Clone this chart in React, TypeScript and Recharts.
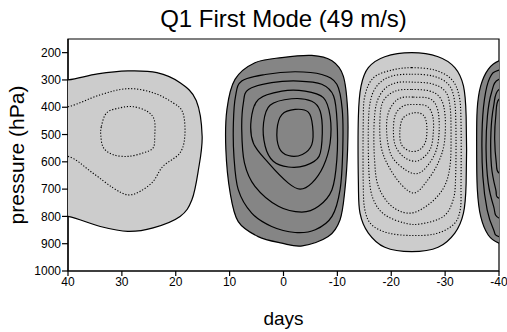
import { ScatterChart, Scatter, XAxis, YAxis, ReferenceArea } from "recharts";

const X_TICKS = [40, 30, 20, 10, 0, -10, -20, -30, -40];
const Y_TICKS = [200, 300, 400, 500, 600, 700, 800, 900, 1000];

// contour rings as [day, pressure] pairs

// negative cell, left (runs off the left edge)
const negLeftOuter = [[46,310],[40,300],[34.5,278],[28.9,267],[23.5,273],[19.2,310],[16.2,375],[15.1,506],[15.8,630],[17,739],[19.2,800],[24.2,842],[28.9,855],[34,837],[40,800],[46,790],[50,550]];
const negLeftRing1 = [[40,398],[34.1,355],[28.9,332],[24.2,347],[20.5,384],[18.7,419],[18.3,500],[19.2,567],[22.4,617],[24.2,672],[26.6,708],[28.9,721],[31.6,696],[35.4,641],[40,580],[45,590],[48,500],[45,400]];
const negLeftRing2 = [[33.8,470],[32.8,420],[30.3,402],[27.9,398],[25.4,414],[24,445],[23.9,506],[24.2,549],[26,567],[28.8,580],[31.6,574],[33.4,549],[33.9,506]];

// positive cell, centre
const posMidOuter = [[9.0,298],[5.3,237],[0.3,218],[-5.25,210],[-9.0,230],[-11.1,286],[-11.9,408],[-11.9,555],[-11.4,702],[-10.5,812],[-8.3,874],[-3.5,908],[0.3,898],[4.7,874],[8.4,819],[9.9,714],[10.7,555],[10.5,408]];
const posMidRing1 = [[7.75,304],[3.4,280],[-2.15,270],[-7.1,280],[-9.9,316],[-10.9,408],[-11.0,555],[-10.5,702],[-9.0,800],[-5.9,849],[-2.15,859],[2.2,837],[5.9,788],[8.4,702],[9.2,580],[9.3,457],[8.9,359]];
const posMidRing2 = [[6.5,335],[2.2,310],[-2.8,304],[-7.1,316],[-9.3,359],[-9.95,457],[-9.9,592],[-9.0,702],[-6.5,763],[-3.4,784],[0.95,763],[5.3,690],[7.25,604],[7.75,482],[7.45,384]];
const posMidRing3 = [[4.65,371],[0.3,341],[-4.0,341],[-7.4,365],[-8.65,433],[-8.65,531],[-7.4,616],[-5.25,678],[-3.1,700],[-0.9,678],[2.8,604],[5.6,531],[6.0,445]];
const posMidRing4 = [[-1.5,369],[-5.25,378],[-6.8,414],[-7.2,494],[-6.6,580],[-4.0,614],[-0.9,619],[1.9,598],[3.4,543],[3.7,457],[2.5,393]];
const posMidRing5 = [[-2.15,408],[-4.6,418],[-5.4,469],[-5.25,537],[-3.5,573],[-0.9,577],[0.8,549],[1.2,482],[0.3,427]];

// negative cell, right of centre
const negRightOuter = [[-23.8,200],[-28.7,215],[-31.8,255],[-33.4,322],[-33.9,433],[-33.9,678],[-33.4,788],[-31.8,861],[-28.7,913],[-23.8,929],[-18.8,913],[-15.75,861],[-14.2,788],[-13.9,678],[-13.9,433],[-14.4,322],[-15.75,255],[-18.8,215]];
const negRightRing1 = [[-23.8,255],[-28.1,264],[-31.2,298],[-32.6,359],[-32.95,457],[-32.95,678],[-32.8,776],[-31.5,831],[-28.1,864],[-23.8,870],[-19.5,861],[-16.4,831],[-15.1,776],[-14.8,678],[-14.8,457],[-15.1,359],[-16.7,292],[-20.1,264]];
const negRightRing2 = [[-23.8,279],[-27.8,286],[-30.6,316],[-31.7,371],[-32.0,469],[-31.95,653],[-31.5,739],[-29.7,800],[-25.65,827],[-22.6,825],[-18.8,794],[-16.7,739],[-15.9,653],[-15.75,469],[-16.2,371],[-17.6,316],[-20.1,286]];
const negRightRing3 = [[-23.8,308],[-27.5,314],[-30.0,341],[-30.9,396],[-31.1,494],[-30.9,616],[-29.7,696],[-26.9,757],[-23.5,788],[-20.1,763],[-17.6,690],[-16.9,592],[-16.8,469],[-17.3,384],[-18.8,332],[-21.0,310]];
const negRightRing4 = [[-23.8,335],[-27.2,341],[-29.2,369],[-30.0,433],[-29.85,531],[-28.7,604],[-26.6,671],[-24.3,714],[-21.9,684],[-19.5,616],[-18.1,543],[-17.9,445],[-18.5,378],[-20.7,341]];
const negRightRing5 = [[-24.1,363],[-27.2,369],[-28.6,408],[-28.9,482],[-28.4,555],[-26.9,610],[-24.9,643],[-22.6,629],[-20.1,580],[-19.2,506],[-19.3,433],[-20.4,386],[-21.9,365]];
const negRightRing6 = [[-24.1,390],[-26.6,396],[-27.7,433],[-27.8,494],[-27.2,555],[-25.0,596],[-22.6,586],[-20.8,543],[-20.4,482],[-20.8,426],[-22.2,396]];
const negRightRing7 = [[-24.3,420],[-26.0,430],[-26.6,469],[-26.4,524],[-25.3,555],[-23.5,561],[-21.9,537],[-21.6,488],[-22.2,439]];

// positive cell at the right edge (runs off)
const posEdgeOuter = [[-40,230],[-38.0,261],[-36.6,322],[-35.95,408],[-35.85,555],[-35.98,702],[-36.6,800],[-38.0,868],[-40,898],[-44,915],[-50,900],[-52,560],[-50,230],[-44,215]];
const posEdgeRing1 = [[-40,264],[-38.3,292],[-37.3,371],[-36.85,494],[-37.0,653],[-37.8,776],[-39,849],[-40,874],[-45,890],[-48,560],[-45,250]];
const posEdgeRing2 = [[-40,298],[-38.6,347],[-37.85,433],[-37.6,555],[-38.0,678],[-39.0,763],[-40,806],[-45,820],[-47,550],[-45,290]];
const posEdgeRing3 = [[-40,335],[-39.0,396],[-38.5,494],[-38.6,616],[-39.4,702],[-40,733],[-44,740],[-46,530],[-44,330]];
const posEdgeRing4 = [[-40,371],[-39.4,433],[-39.2,518],[-39.5,604],[-40,641],[-43,650],[-44,500],[-43,370]];

const LIGHT = "#cccccc";
const DARK = "#858585";
const FONT = '"Liberation Sans", Arial, Helvetica, sans-serif';

// fill: shaded cell outline; dotted: negative contour inside
const LAYERS = [
  { pts: negLeftOuter, fill: LIGHT },
  { pts: negLeftRing1, dotted: true },
  { pts: negLeftRing2, dotted: true },
  { pts: posMidOuter, fill: DARK },
  { pts: posMidRing1 },
  { pts: posMidRing2 },
  { pts: posMidRing3 },
  { pts: posMidRing4 },
  { pts: posMidRing5 },
  { pts: negRightOuter, fill: LIGHT },
  { pts: negRightRing1, dotted: true },
  { pts: negRightRing2, dotted: true },
  { pts: negRightRing3, dotted: true },
  { pts: negRightRing4, dotted: true },
  { pts: negRightRing5, dotted: true },
  { pts: negRightRing6, dotted: true },
  { pts: negRightRing7, dotted: true },
  { pts: posEdgeOuter, fill: DARK },
  { pts: posEdgeRing1 },
  { pts: posEdgeRing2 },
  { pts: posEdgeRing3 },
  { pts: posEdgeRing4 },
];

// closed catmull-rom so the ring passes through every point
const closedSpline = (context: any) => {
  let pts: number[][] = [];
  return {
    areaStart() {},
    areaEnd() {},
    lineStart() { pts = []; },
    point(x: number, y: number) { pts.push([+x, +y]); },
    lineEnd() {
      const n = pts.length;
      if (n < 3) return;
      context.moveTo(pts[0][0], pts[0][1]);
      for (let i = 0; i < n; i++) {
        const a = pts[(i - 1 + n) % n], b = pts[i], c = pts[(i + 1) % n], d = pts[(i + 2) % n];
        context.bezierCurveTo(
          b[0] + (c[0] - a[0]) / 6, b[1] + (c[1] - a[1]) / 6,
          c[0] - (d[0] - b[0]) / 6, c[1] - (d[1] - b[1]) / 6,
          c[0], c[1]
        );
      }
      context.closePath();
    },
  };
};

const noDot = () => null;

export default function App() {
  return (
    <div style={{ position: "absolute", left: 0, top: 0, width: 507, height: 332, fontFamily: FONT, background: "#fff" }}>
      <div style={{ position: "absolute", left: 0, width: 567, top: 7, textAlign: "center", fontSize: 24, lineHeight: "24px", color: "#000" }}>
        Q1 First Mode (49 m/s)
      </div>
      <div style={{ position: "absolute", left: 15.5, top: 155, transform: "translate(-50%, -50%) rotate(-90deg)", fontSize: 21, lineHeight: "21px", whiteSpace: "nowrap", color: "#000" }}>
        pressure (hPa)
      </div>
      <div style={{ position: "absolute", left: 0, width: 567, top: 309, textAlign: "center", fontSize: 19, lineHeight: "19px", color: "#000" }}>
        days
      </div>
      <ScatterChart width={507} height={332} margin={{ top: 39, right: 8, bottom: 31, left: 8 }}>
        <XAxis
          type="number"
          dataKey="day"
          domain={[-40, 40]}
          reversed
          allowDataOverflow
          ticks={X_TICKS}
          interval={0}
          height={30}
          tickSize={5}
          tickMargin={1}
          axisLine={{ stroke: "#000", strokeWidth: 1.2 }}
          tickLine={{ stroke: "#000", strokeWidth: 1.2 }}
          tick={{ fill: "#000", fontSize: 12, fontFamily: FONT }}
        />
        <YAxis
          type="number"
          dataKey="p"
          domain={[150, 1000]}
          reversed
          allowDataOverflow
          ticks={Y_TICKS}
          interval={0}
          width={60}
          tickSize={6}
          tickMargin={1}
          axisLine={{ stroke: "#000", strokeWidth: 1.2 }}
          tickLine={{ stroke: "#000", strokeWidth: 1.2 }}
          tick={{ fill: "#000", fontSize: 12, fontFamily: FONT }}
        />
        {LAYERS.map((layer, i) => (
          <Scatter
            key={i}
            data={layer.pts.map(([day, p]) => ({ day, p }))}
            shape={noDot}
            line={{
              stroke: "#000",
              strokeWidth: layer.dotted ? 1.1 : 1.2,
              strokeDasharray: layer.dotted ? "1.2 1.8" : undefined,
              fill: layer.fill ?? "none",
            }}
            lineJointType={closedSpline as any}
            legendType="none"
            isAnimationActive={false}
          />
        ))}
        <ReferenceArea x1={40} x2={-40} y1={150} y2={1000} fill="none" stroke="#000" strokeWidth={1.2} fillOpacity={0} />
      </ScatterChart>
    </div>
  );
}
